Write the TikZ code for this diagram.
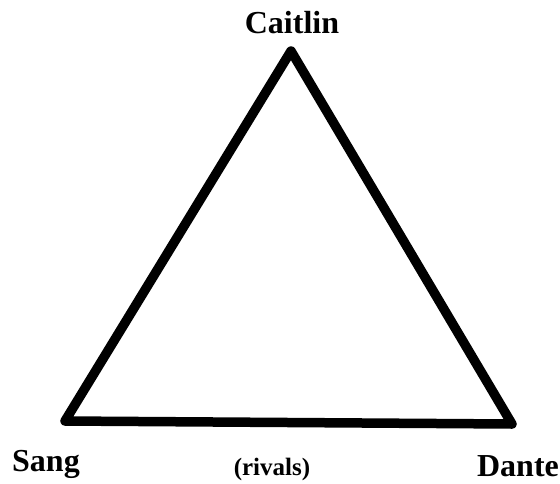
\documentclass[tikz,border=0pt]{standalone}
\usepackage{fontspec}
\setmainfont{Liberation Serif}
\usetikzlibrary{positioning}

\begin{document}
\begin{tikzpicture}[
    x=1pt,y=-1pt,
    person/.style={
      font=\fontsize{32}{32}\selectfont\bfseries,
      inner sep=0pt
    },
    side/.style={
      line width=9.5pt,
      line join=round
    }
    ]
    \useasboundingbox (0,0) rectangle (560,483);
    \coordinate (top) at (291,51);
    \coordinate (left) at (65,421);
    \coordinate (right) at (512,424);
    \draw[side] (top) -- (left) -- (right) -- cycle;
    \node[person] at (292,23) (caitlin) {Caitlin};
    \node[person] at (46,464) (sang) {Sang};
    \node[person] at (518,466) (dante) {Dante};
    \node[person,font=\fontsize{25}{25}\selectfont\bfseries] at (272,469) (rivals) {(rivals)};
\end{tikzpicture}
\end{document}
